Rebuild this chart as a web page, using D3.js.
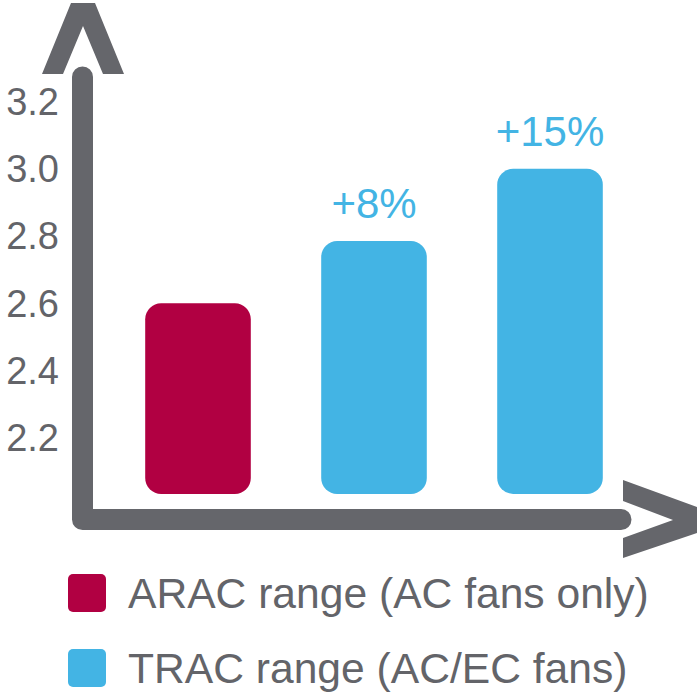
<!DOCTYPE html>
<html>
<head>
<meta charset="utf-8">
<script src="https://cdn.jsdelivr.net/npm/d3@7"></script>
<style>
  body { margin: 0; background: #fff; }
  text { font-family: "Liberation Sans", Arial, sans-serif; }
</style>
</head>
<body>
<div id="canvas"></div>
<script>
// chart data
const categories = ["ARAC", "TRAC 1", "TRAC 2"];
const values = [2.6, 2.785, 3.0];
const barBase = 2.033;
const barSeries = ["arac", "trac", "trac"];
const increaseLabels = ["", "+8%", "+15%"];
const yTicks = [2.2, 2.4, 2.6, 2.8, 3.0, 3.2];
const legendLabels = ["ARAC range (AC fans only)", "TRAC range (AC/EC fans)"];
const legendKeys = ["arac", "trac"];

const width = 698, height = 699;
const grey = "#636469";

let color = d3.scaleOrdinal()
  .domain(["arac", "trac"])
  .range(["#b10042", "#43b4e4"]);

let svg = d3.select("#canvas")
  .append("svg")
  .attr("width", width)
  .attr("height", height);

let xScale = d3.scaleBand()
  .domain(categories)
  .range([110, 638])
  .paddingInner(0.4)
  .paddingOuter(0.2);

let yScale = d3.scaleLinear()
  .domain([2.0, 3.2])
  .range([505, 101.5]);

// axis lines (L shape) with arrow heads
svg.append("path")
  .attr("d", "M82.5,77 L82.5,519.5 L621,519.5")
  .attr("fill", "none")
  .attr("stroke", "#65666b")
  .attr("stroke-width", 21)
  .attr("stroke-linecap", "round")
  .attr("stroke-linejoin", "round");

svg.append("path")
  .attr("d", "M42,74 L71,3 L95,3 L124,74 L103,74 L83,26 L63,74 Z")
  .attr("fill", "#65666b");

svg.append("path")
  .attr("d", "M623,480 L697,507 L697,533 L623,558 L623,538 L673,520 L623,501 Z")
  .attr("fill", "#65666b");

// y tick labels
svg.selectAll(".ytick")
  .data(yTicks)
  .enter()
  .append("text")
  .attr("class", "ytick")
  .attr("x", 59)
  .attr("y", d => yScale(d))
  .attr("dy", "0.35em")
  .attr("text-anchor", "end")
  .attr("fill", grey)
  .style("font-size", "38px")
  .text(d => d.toFixed(1));

// bars
svg.selectAll(".bar")
  .data(values)
  .enter()
  .append("rect")
  .attr("class", "bar")
  .attr("x", (d, i) => xScale(categories[i]))
  .attr("y", d => yScale(d))
  .attr("width", xScale.bandwidth())
  .attr("height", d => yScale(barBase) - yScale(d))
  .attr("rx", 16)
  .attr("fill", (d, i) => color(barSeries[i]));

// increase labels
svg.selectAll(".inc")
  .data(values)
  .enter()
  .append("text")
  .attr("class", "inc")
  .attr("x", (d, i) => xScale(categories[i]) + xScale.bandwidth() / 2)
  .attr("y", d => yScale(d) - 23)
  .attr("text-anchor", "middle")
  .attr("fill", "#43b4e4")
  .style("font-size", "42px")
  .text((d, i) => increaseLabels[i]);

// legend
let legend = svg.selectAll(".legend")
  .data(legendLabels)
  .enter()
  .append("g")
  .attr("class", "legend")
  .attr("transform", (d, i) => "translate(0," + (574 + i * 75) + ")");

legend.append("rect")
  .attr("x", 68)
  .attr("width", 38)
  .attr("height", 38)
  .attr("rx", 5)
  .attr("fill", (d, i) => color(legendKeys[i]));

legend.append("text")
  .attr("x", 128)
  .attr("y", 19)
  .attr("dy", "0.35em")
  .attr("fill", grey)
  .style("font-size", "42.6px")
  .text(d => d);
</script>
</body>
</html>
